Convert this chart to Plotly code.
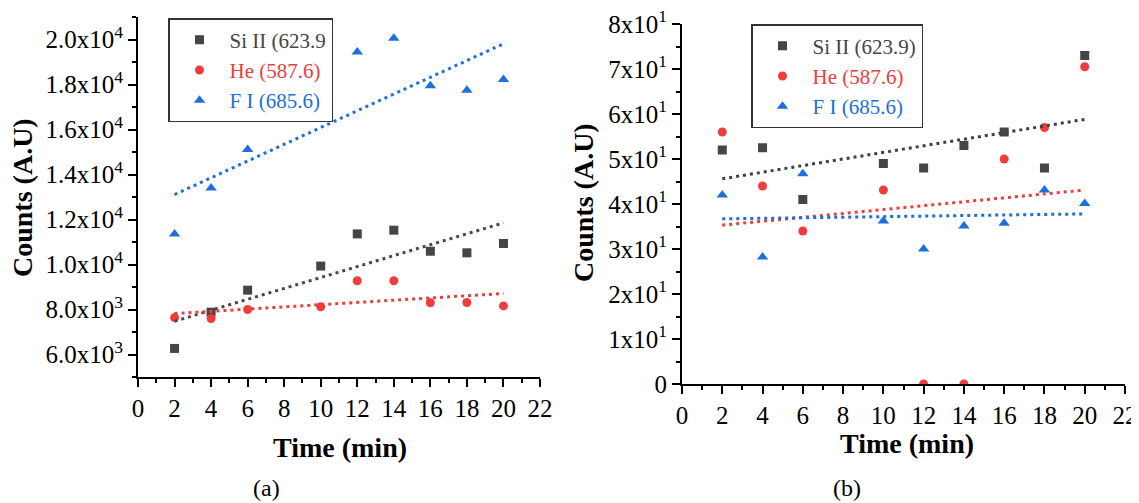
import plotly.graph_objects as go

# ---------------- data ----------------
time_min = [2, 4, 6, 10, 12, 14, 16, 18, 20]

# panel (a)
a_si = [6270, 7880, 8860, 9930, 11360, 11525, 10590, 10520, 10935]
a_he = [7640, 7600, 8000, 8120, 9280, 9280, 8300, 8310, 8160]
a_f = [11360, 13400, 15110, 16590, 19450, 20060, 17950, 17750, 18220]

# panel (b)
b_si = [52.0, 52.5, 41.0, 49.0, 48.0, 53.0, 56.0, 48.0, 73.0]
b_he = [56.0, 44.0, 34.0, 43.1, 0.0, 0.0, 50.0, 57.0, 70.5]
b_f = [42.0, 28.2, 46.7, 36.2, 30.0, 35.1, 35.7, 43.1, 40.1]

# linear trend lines (end points)
trend_x = [2, 20]
a_si_trend = [7480, 11850]
a_he_trend = [7820, 8710]
a_f_trend = [13110, 19810]
b_si_trend = [45.6, 58.8]
b_he_trend = [35.3, 43.1]
b_f_trend = [36.7, 37.8]

names_a = ["Si II (623.9", "He (587.6)", "F I (685.6)"]
names_b = ["Si II (623.9)", "He (587.6)", "F I (685.6)"]

x_ticks = list(range(0, 23, 2))
a_yticks = [6000, 8000, 10000, 12000, 14000, 16000, 18000, 20000]
a_yticktext = ["6.0x10<sup>3</sup>", "8.0x10<sup>3</sup>", "1.0x10<sup>4</sup>", "1.2x10<sup>4</sup>",
               "1.4x10<sup>4</sup>", "1.6x10<sup>4</sup>", "1.8x10<sup>4</sup>", "2.0x10<sup>4</sup>"]
b_yticks = [0, 10, 20, 30, 40, 50, 60, 70, 80]
b_yticktext = ["0"] + [f"{i}x10<sup>1</sup>" for i in range(1, 9)]

# ---------------- style ----------------
GRAY = "#454545"
RED = "#ee3d3d"
BLUE = "#1e6fd9"
FONT = "Liberation Serif"
DOT = "3px,4px"

W, H = 1139, 503
OFF = 8  # page body margin offset


def fx(px):
    return (px - OFF) / W


def fy(py):
    return 1 - (py - OFF) / H


fig = go.Figure()


def add_panel(xa, ya, legend, names, series, trends, si_trend_color):
    colors = [GRAY, RED, BLUE]
    symbols = ["square", "circle", "triangle-up"]
    for name, ys, c, s in zip(names, series, colors, symbols):
        fig.add_trace(go.Scatter(
            x=time_min, y=ys, mode="markers", xaxis=xa, yaxis=ya, legend=legend,
            name=f"<span style='color:{c}'>{name}</span>",
            marker=dict(symbol=s, size=9 if s != "triangle-up" else 10, color=c),
        ))
    tcolors = [si_trend_color, RED, BLUE]
    for ys, c in zip(trends, tcolors):
        fig.add_trace(go.Scatter(
            x=trend_x, y=ys, mode="lines", xaxis=xa, yaxis=ya, showlegend=False,
            line=dict(color=c, width=3, dash=DOT), hoverinfo="skip",
        ))


add_panel("x", "y", "legend", names_a, [a_si, a_he, a_f],
          [a_si_trend, a_he_trend, a_f_trend], "#5a4040")
add_panel("x2", "y2", "legend2", names_b, [b_si, b_he, b_f],
          [b_si_trend, b_he_trend, b_f_trend], "#404040")

axis_common = dict(
    showline=True, linecolor="black", linewidth=2, showgrid=False, zeroline=False,
    ticks="outside", ticklen=8, tickwidth=1.5, tickcolor="black", automargin=False,
    ticklabeloverflow="allow",
    tickfont=dict(family=FONT, size=25, color="black"),
)

fig.update_layout(
    width=W, height=H,
    margin=dict(l=0, r=0, t=0, b=0, pad=0, autoexpand=False),
    paper_bgcolor="white", plot_bgcolor="rgba(0,0,0,0)",
    font=dict(family=FONT, color="black"),
    xaxis=dict(domain=[fx(138), fx(540)], range=[0, 22], tickvals=x_ticks, anchor="y",
               minor=dict(dtick=1, tick0=0, ticks="outside", ticklen=4, tickwidth=1.5, tickcolor="black"),
               **axis_common),
    yaxis=dict(domain=[fy(377), fy(17)], range=[5000, 21000], tickvals=a_yticks, ticktext=a_yticktext,
               anchor="x",
               minor=dict(dtick=1000, tick0=0, ticks="outside", ticklen=4, tickwidth=1.5, tickcolor="black"),
               **axis_common),
    xaxis2=dict(domain=[fx(682), fx(1125)], range=[0, 22], tickvals=x_ticks, anchor="y2",
                minor=dict(dtick=1, tick0=0, ticks="outside", ticklen=4, tickwidth=1.5, tickcolor="black"),
                **axis_common),
    yaxis2=dict(domain=[fy(384), fy(24)], range=[0, 80], tickvals=b_yticks, ticktext=b_yticktext,
                anchor="x2",
                minor=dict(dtick=5, tick0=0, ticks="outside", ticklen=4, tickwidth=1.5, tickcolor="black"),
                **axis_common),
    legend=dict(x=fx(168), y=fy(18), xanchor="left", yanchor="top",
                bgcolor="white", bordercolor="#333333", borderwidth=1.5,
                font=dict(family=FONT, size=21), itemwidth=50, tracegroupgap=0),
    legend2=dict(x=fx(751), y=fy(24), xanchor="left", yanchor="top",
                 bgcolor="white", bordercolor="#333333", borderwidth=1.5,
                 font=dict(family=FONT, size=21), itemwidth=50, tracegroupgap=0),
    showlegend=True,
)

ann = []
title_font = dict(family=FONT, size=28, color="black", weight="bold")
ann.append(dict(text="Time (min)", x=fx(340), y=fy(447), font=title_font))
ann.append(dict(text="Time (min)", x=fx(907), y=fy(443), font=title_font))
ann.append(dict(text="Counts (A.U)", x=fx(23), y=fy(198), textangle=-90, font=title_font))
ann.append(dict(text="Counts (A.U)", x=fx(584), y=fy(203), textangle=-90, font=title_font))
cap_font = dict(family=FONT, size=24, color="black")
ann.append(dict(text="(a)", x=fx(266), y=fy(488), font=cap_font))
ann.append(dict(text="(b)", x=fx(847), y=fy(488), font=cap_font))
for a in ann:
    a.update(xref="paper", yref="paper", showarrow=False, xanchor="center", yanchor="middle")
fig.update_layout(annotations=ann)

fig.write_html("out.html")
